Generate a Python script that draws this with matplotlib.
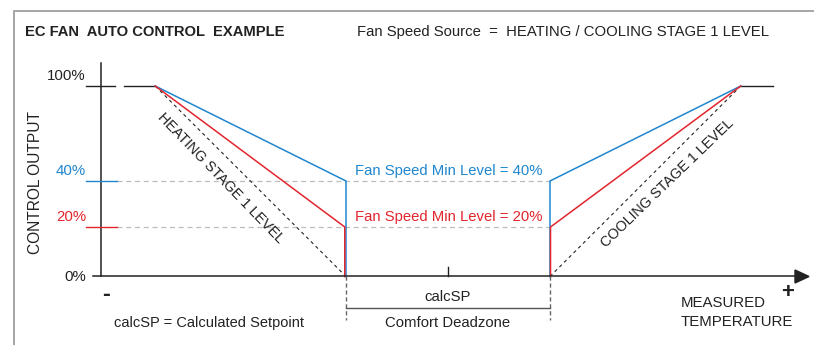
import numpy as np
import matplotlib
matplotlib.use("Agg")
import matplotlib.pyplot as plt
import matplotlib.transforms as mtransforms
from matplotlib.patches import Polygon

# --- data (temperature relative to calcSP, output in %) ---
setpoint = 0.0
deadzone = [-1.0, 1.0]
heat_full = -2.87
cool_full = 2.87
flat_left = -3.18
flat_right = 3.19
levels = [0, 20, 40, 100]
level_labels = ["0%", "20%", "40%", "100%"]
min_blue = 40
min_red = 20

BLUE = "#1f86cf"
RED = "#e2252d"
INK = "#222222"
plt.rcParams["font.family"] = ["Liberation Sans", "DejaVu Sans"]

W, H = 814, 345
fig = plt.figure(figsize=(W / 100, H / 100), dpi=100)
ax = fig.add_axes([0, 0, 1, 1])
ax.set_axis_off()

# diagram is not to scale in y: 0/20/40/100 % sit at these heights (px)
knots_p = [-1000, 0, 20, 40, 100, 1000]
knots_h = [-1900, 0, 49.5, 95.5, 190.5, 1900.5]


def fwd(p):
    return np.interp(p, knots_p, knots_h)


def inv(h):
    return np.interp(h, knots_h, knots_p)


ax.set_yscale("function", functions=(fwd, inv))
px_per_deg = 102.0
x0_px = 448.0
ax.set_xlim(-x0_px / px_per_deg, (W - x0_px) / px_per_deg)
ax.set_ylim(inv(-(H - 276.5)), inv(276.5))

# pixel transform for decorations / text
P = mtransforms.Affine2D().scale(1 / W, -1 / H).translate(0, 1) + fig.transFigure


def tx(px):
    return (px - x0_px) / px_per_deg


def ty(py):
    return float(inv(276.5 - py))


# frame
ax.plot([14, 14, W + 5], [H + 5, 11, 11], color="#a5a5a5", lw=1.4, transform=P, clip_on=False)

# min level guide dashes
for lv in (min_blue, min_red):
    ax.plot([tx(117), deadzone[1]], [lv, lv], color="#bdbdbd", lw=0.9, ls=(0, (4, 3)))

# heating side
ax.plot([flat_left, heat_full], [100, 100], color=INK, lw=1.0)
ax.plot([heat_full, deadzone[0]], [100, 0], color=INK, lw=0.8, ls=(0, (3, 3)))
ax.plot([heat_full, deadzone[0], deadzone[0]], [100, min_blue, 0], color=BLUE, lw=1.1)
ax.plot([heat_full, deadzone[0] - 0.012, deadzone[0] - 0.012], [100, min_red, 0], color=RED, lw=1.1)

# cooling side
ax.plot([cool_full, flat_right], [100, 100], color=INK, lw=1.0)
ax.plot([deadzone[1], cool_full], [0, 100], color=INK, lw=0.8, ls=(0, (3, 3)))
ax.plot([deadzone[1], deadzone[1], cool_full], [0, min_blue, 100], color=BLUE, lw=1.1)
ax.plot([deadzone[1] + 0.005, deadzone[1] + 0.005, cool_full], [0, min_red, 100], color=RED, lw=1.1)

# axes
ax.plot([tx(101), tx(101)], [0, ty(63)], color=INK, lw=1.1)
ax.plot([tx(93), tx(797)], [0, 0], color=INK, lw=1.1)
ax.add_patch(Polygon([[795, 270], [809, 276.5], [795, 283]], closed=True,
                     color=INK, transform=P, clip_on=False))
ax.plot([tx(86), tx(115)], [100, 100], color=INK, lw=1.0)
ax.plot([tx(86), tx(117)], [min_blue, min_blue], color=BLUE, lw=1.0)
ax.plot([tx(86), tx(117)], [min_red, min_red], color=RED, lw=1.0)

# deadzone marks
for d in deadzone:
    ax.plot([d, d], [0, ty(320)], color="#666666", lw=1.0, ls=(0, (3, 2)))
ax.plot(deadzone, [ty(308), ty(308)], color="#555555", lw=1.0)
ax.plot([setpoint, setpoint], [0, ty(267)], color=INK, lw=1.0)

# texts
ax.text(25, 32, "EC FAN  AUTO CONTROL  EXAMPLE", transform=P, fontsize=10.6,
        fontweight="bold", color=INK, ha="left", va="center")
ax.text(357, 32, "Fan Speed Source  =  HEATING / COOLING STAGE 1 LEVEL", transform=P,
        fontsize=10.7, color=INK, ha="left", va="center")
label_pos = [(277, INK), (217, RED), (171, BLUE), (76, INK)]
for lab, (py, c) in zip(level_labels, label_pos):
    ax.text(86, py, lab, transform=P, fontsize=10.8, color=c, ha="right", va="center")
ax.text(36, 183, "CONTROL OUTPUT", transform=P, fontsize=11.2, color=INK,
        rotation=90, ha="center", va="center")
ax.text(449, 171, "Fan Speed Min Level = %d%%" % min_blue, transform=P, fontsize=10.7,
        color=BLUE, ha="center", va="center")
ax.text(449, 217, "Fan Speed Min Level = %d%%" % min_red, transform=P, fontsize=10.7,
        color=RED, ha="center", va="center")
ax.text(221, 178, "HEATING STAGE 1 LEVEL", transform=P, fontsize=10.4, color=INK,
        rotation=-46, rotation_mode="anchor", ha="center", va="center")
ax.text(667, 183, "COOLING STAGE 1 LEVEL", transform=P, fontsize=10.4, color=INK,
        rotation=44, rotation_mode="anchor", ha="center", va="center")
ax.text(448, 297, "calcSP", transform=P, fontsize=10.7, color=INK, ha="center", va="center")
ax.text(448, 323, "Comfort Deadzone", transform=P, fontsize=10.7, color=INK,
        ha="center", va="center")
ax.text(209, 323, "calcSP = Calculated Setpoint", transform=P, fontsize=10.5, color=INK,
        ha="center", va="center")
ax.text(681, 303, "MEASURED", transform=P, fontsize=10.8, color=INK,
        ha="left", va="center")
ax.text(681, 322, "TEMPERATURE", transform=P, fontsize=10.8, color=INK,
        ha="left", va="center")
ax.text(106, 295, "-", transform=P, fontsize=17, fontweight="bold", color=INK,
        ha="center", va="center")
ax.text(788, 292, "+", transform=P, fontsize=16, fontweight="bold", color=INK,
        ha="center", va="center")

fig.savefig("out.png", dpi=100)
